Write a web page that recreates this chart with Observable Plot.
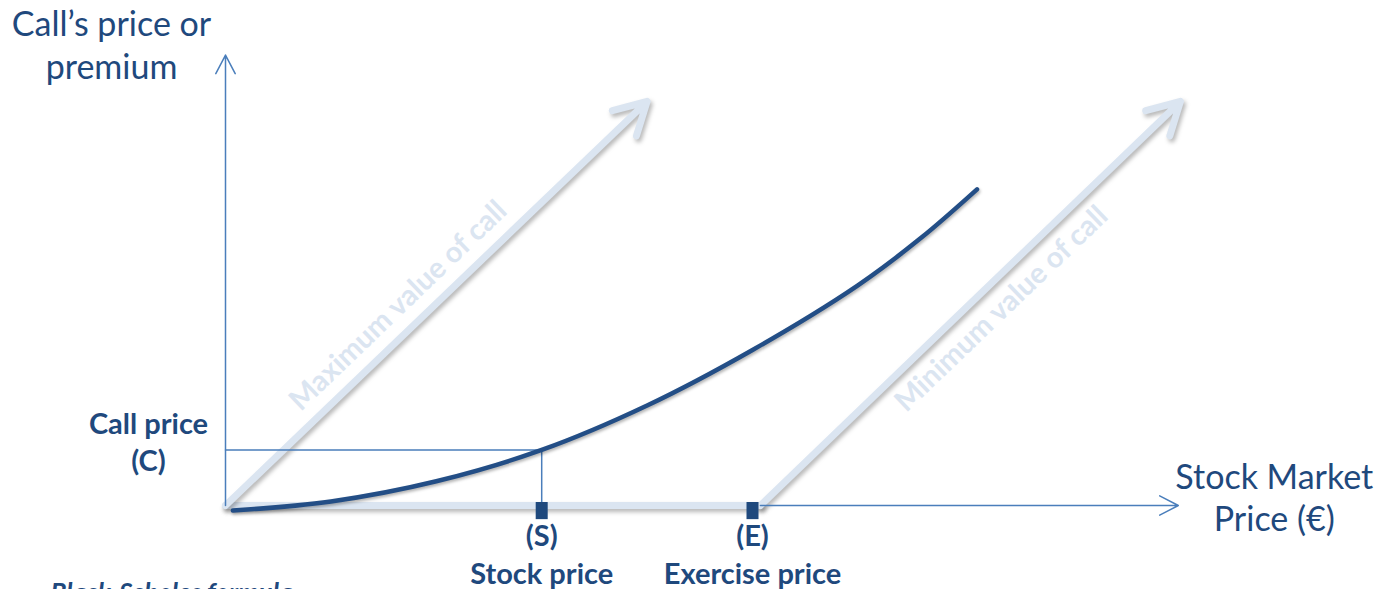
<!DOCTYPE html>
<html><head><meta charset="utf-8">
<script src="https://cdn.jsdelivr.net/npm/d3@7"></script>
<script src="https://cdn.jsdelivr.net/npm/@observablehq/plot@0.6"></script>
<style>
html,body{margin:0;padding:0;background:#fff;overflow:hidden;}
.shadow{filter:drop-shadow(2px 3px 2px rgba(0,0,0,0.28));}
.softshadow{filter:drop-shadow(1px 2px 1.5px rgba(0,0,0,0.3));}
</style></head><body><div id="chart"></div>
<script>
// ---- data ----
const yAxisTitle = ["Call’s price or", "premium"];
const xAxisTitle = ["Stock Market", "Price (€)"];
const priceMarks = ["(S)", "(E)"];
const priceNames = ["Stock price", "Exercise price"];
const priceValues = [30, 50];          // S, E
const callLabel = ["Call price", "(C)"];
const callPrice = 5.5;                 // C
const boundNames = ["Maximum value of call", "Minimum value of call"];
const curveX = [0.7, 10, 20, 30, 40, 50, 60, 66, 71.3];
const curveY = [-0.5, 0.4, 2.4, 5.5, 9.9, 15.4, 21.8, 26.5, 31.3];
const caption = "Black-Scholes formula";
const xAxisMax = 90.4;
const yAxisMax = 44.6;
const boundTop = 40;
const kinkX = 50.75;

// ---- styles ----
const dark = "#1f497d";
const curveColor = "#234e86";
const thin = "#4a7ebb";
const light = "#dbe5f1";

const S = priceValues[0];
const axes = [
  {x1: 0, y1: 0, x2: 0, y2: yAxisMax},
  {x1: kinkX, y1: 0, x2: xAxisMax, y2: 0}
];
const bounds = [
  {x1: 0, y1: 0, x2: boundTop, y2: boundTop},
  {x1: kinkX, y1: 0, x2: kinkX + boundTop - 0.15, y2: boundTop}
];
const curve = curveX.map((x, i) => ({x, y: curveY[i]}));
const ticks = priceValues.map((v, i) => ({x: v, y: 0, label: priceMarks[i] + "\n" + priceNames[i]}));

const plot = Plot.plot({
  width: 1377, height: 589,
  marginLeft: 225, marginRight: 98, marginTop: 0, marginBottom: 84,
  x: {domain: [0, 100], axis: null},
  y: {domain: [0, 50], axis: null},
  style: {fontFamily: "Lato, 'Open Sans', sans-serif", background: "#fff"},
  marks: [
    // light bound arrows
    Plot.line([{x: 0, y: 0}, {x: kinkX, y: 0}], {x: "x", y: "y", stroke: light, strokeWidth: 7, strokeLinecap: "round", className: "shadow"}),
    Plot.arrow(bounds, {x1: "x1", y1: "y1", x2: "x2", y2: "y2", stroke: light, strokeWidth: 7, headLength: 7.7, headAngle: 58, strokeLinecap: "round", strokeLinejoin: "round", className: "shadow"}),
    // thin axes
    Plot.arrow(axes, {x1: "x1", y1: "y1", x2: "x2", y2: "y2", stroke: thin, strokeWidth: 1.5, headLength: 21, headAngle: 55}),
    // call price guide
    Plot.line([{x: 0, y: callPrice}, {x: S, y: callPrice}, {x: S, y: 0}], {x: "x", y: "y", stroke: thin, strokeWidth: 1.5}),
    // curve
    Plot.line(curve, {x: "x", y: "y", curve: "catmull-rom", stroke: curveColor, strokeWidth: 4.5, className: "softshadow"}),
    // tick blocks
    Plot.ruleX(priceValues, {y1: 0.3, y2: -1.4, stroke: dark, strokeWidth: 12}),
    // labels
    Plot.text(ticks, {x: "x", y: "y", text: "label", dy: 78, lineAnchor: "bottom", lineHeight: 1.31, fontSize: 29, fontWeight: "bold", fill: dark}),
    Plot.text([callLabel.join("\n")], {x: () => 0, y: () => callPrice, dx: -77, dy: 21, lineAnchor: "bottom", lineHeight: 1.276, fontSize: 29, fontWeight: "bold", fill: dark}),
    Plot.text([yAxisTitle.join("\n")], {frameAnchor: "top-left", dx: -114, dy: 78, lineAnchor: "bottom", lineHeight: 1.265, fontSize: 34, fill: dark, textAnchor: "middle"}),
    Plot.text([xAxisTitle.join("\n")], {x: () => xAxisMax, y: () => 0, dx: 96, dy: 25, lineAnchor: "bottom", lineHeight: 1.235, fontSize: 34, fill: dark}),
    Plot.text([boundNames[0]], {x: () => 18, y: () => 18, dx: -17, dy: -18, rotate: -43.8, lineAnchor: "middle", fontSize: 29, fontWeight: "bold", fill: light}),
    Plot.text([boundNames[1]], {x: () => 72, y: () => 72 - kinkX, dx: 17, dy: 18, rotate: -43.8, lineAnchor: "middle", fontSize: 29, fontWeight: "bold", fill: light}),
    Plot.text([caption], {frameAnchor: "bottom-left", dx: -175, dy: 96, textAnchor: "start", lineAnchor: "bottom", fontSize: 26, fontWeight: "bold", fontStyle: "italic", fill: dark})
  ]
});
document.getElementById("chart").appendChild(plot);
</script></body></html>
